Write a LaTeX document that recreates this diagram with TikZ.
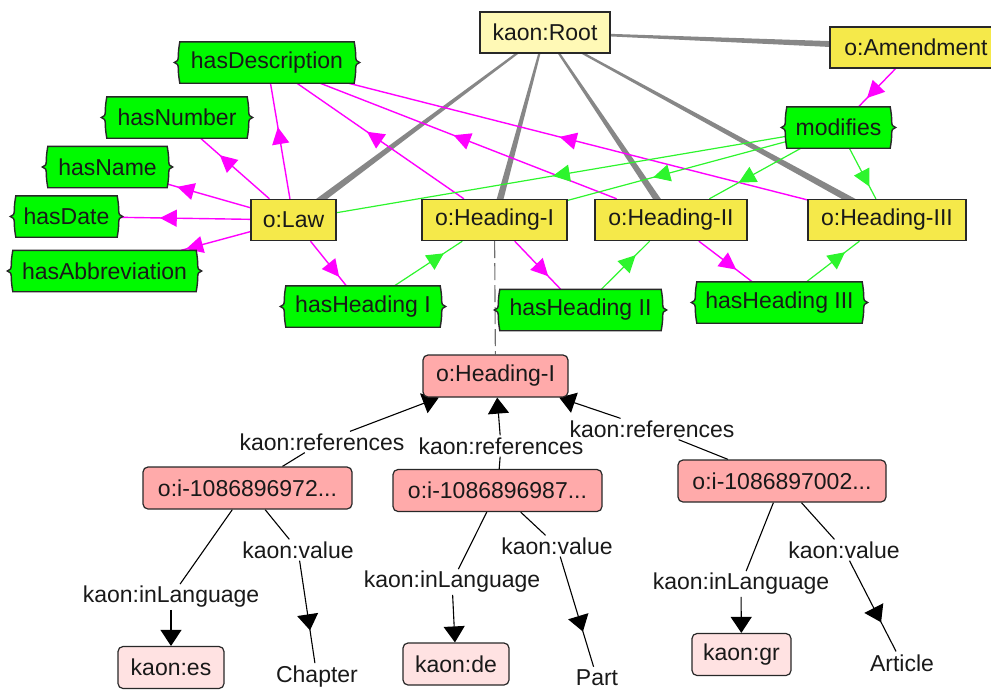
\documentclass[tikz,border=0pt]{standalone}
\usepackage{fontspec}
\setmainfont{Liberation Sans}
\usetikzlibrary{arrows.meta,decorations.markings,calc}

\pgfdeclarelayer{background}
\pgfdeclarelayer{propshapes}
\pgfsetlayers{background,propshapes,main}

\definecolor{classyellow}{RGB}{245,233,74}
\definecolor{rootyellow}{RGB}{255,249,182}
\definecolor{propgreen}{RGB}{0,250,0}
\definecolor{instpink}{RGB}{255,170,170}
\definecolor{langpink}{RGB}{255,226,226}
\definecolor{domainmag}{RGB}{255,0,255}
\definecolor{rangegreen}{RGB}{45,245,45}
\definecolor{edgegray}{RGB}{135,135,135}
\definecolor{viewgray}{RGB}{110,110,110}
\definecolor{outline}{RGB}{40,40,40}
\definecolor{labeltext}{RGB}{25,25,25}

\tikzset{
  txt/.style={font=\fontsize{23}{27}\selectfont, text=labeltext},
  cls/.style={txt, rectangle, draw=outline, line width=1.4pt, fill=classyellow,
    minimum height=41pt, inner sep=0pt},
  rootcls/.style={cls, fill=rootyellow},
  prop/.style={txt, rectangle, minimum height=41pt, inner sep=0pt},
  inst/.style={txt, rectangle, rounded corners=5pt, draw=outline, line width=1.2pt,
    fill=instpink, minimum height=42pt, inner sep=0pt},
  lang/.style={inst, fill=langpink},
  lbl/.style={txt, inner sep=2pt},
  literal/.style={txt, inner sep=3pt},
  domainedge/.style={draw=domainmag, line width=1.4pt},
  rangeedge/.style={draw=rangegreen, line width=1.2pt},
  rel/.style={draw=black, line width=1.1pt},
  reltip/.style={-{Triangle[length=16pt,width=21pt]}},
  tipat/.style={postaction=decorate, decoration={markings,
    mark=at position #1 with {\arrow{Triangle[length=17pt,width=17pt]}}}},
  btipat/.style={postaction=decorate, decoration={markings,
    mark=at position #1 with {\arrow{Triangle[length=16pt,width=21pt]}}}},
}

% tapered subclass edge: thin at the parent, wide at the child
\newcommand{\isaedge}[2]{%
  \fill[edgegray] ($(#1)!0.8pt!90:(#2)$) -- ($(#2)!3.6pt!-90:(#1)$)
    -- ($(#2)!3.6pt!90:(#1)$) -- ($(#1)!0.8pt!-90:(#2)$) -- cycle;}

% property box: rectangle whose short sides are curly braces
\newcommand{\propshape}[1]{%
  \filldraw[fill=propgreen, draw=outline, line width=1.4pt]
    (#1.north west)
      .. controls +(-1,6) and +(0,-5) .. ($(#1.west)+(-1.5,-6)$)
      .. controls +(0,4) and +(3,-1) .. ($(#1.west)+(-5.5,0)$)
      .. controls +(3,1) and +(0,-4) .. ($(#1.west)+(-1.5,6)$)
      .. controls +(0,5) and +(-1,-6) .. (#1.south west)
    -- (#1.south east)
      .. controls +(1,-6) and +(0,5) .. ($(#1.east)+(1.5,6)$)
      .. controls +(0,-4) and +(-3,1) .. ($(#1.east)+(5.5,0)$)
      .. controls +(-3,-1) and +(0,4) .. ($(#1.east)+(1.5,-6)$)
      .. controls +(0,-5) and +(1,6) .. (#1.north east)
    -- cycle;}

\begin{document}
\begin{tikzpicture}[x=1pt,y=-1pt]
\useasboundingbox (0,0) rectangle (991,689);
\clip (0,0) rectangle (991,689);

% ---------- ontology level ----------
\node[rootcls, minimum width=130pt] (root) at (545,32.5) {kaon:Root};
\node[cls, minimum width=172pt] (amend) at (916,47.5) {o:Amendment};

\node[prop, minimum width=174pt] (hasdesc) at (267,62.5) {hasDescription};
\node[prop, minimum width=140pt] (hasnum) at (177,117.5) {hasNumber};
\node[prop, minimum width=119pt] (hasname) at (107.5,167) {hasName};
\node[prop, minimum width=101pt] (hasdate) at (66.5,216.5) {hasDate};
\node[prop, minimum width=183pt] (hasabbr) at (104.5,271) {hasAbbreviation};
\node[prop, minimum width=103pt] (modifies) at (838.5,127.5) {modifies};

\node[cls, minimum width=85pt] (law) at (293.5,220) {o:Law};
\node[cls, minimum width=145pt] (headI) at (494.5,220) {o:Heading-I};
\node[cls, minimum width=152pt] (headII) at (671,220) {o:Heading-II};
\node[cls, minimum width=158pt] (headIII) at (887,220) {o:Heading-III};

\node[prop, minimum width=154pt] (hhI) at (363,306.5) {hasHeading I};
\node[prop, minimum width=161pt] (hhII) at (580.5,310) {hasHeading II};
\node[prop, minimum width=165pt] (hhIII) at (779.5,302.5) {hasHeading III};

% ---------- instance level ----------
\node[inst, minimum width=145pt] (ph) at (495.5,376) {o:Heading-I};
\node[inst, minimum width=209pt] (i1) at (247.5,488) {o:i-1086896972...};
\node[inst, minimum width=209pt] (i2) at (497.5,490.5) {o:i-1086896987...};
\node[inst, minimum width=208pt] (i3) at (782,481) {o:i-1086897002...};
\node[lang, minimum width=106pt] (es) at (171,667.5) {kaon:es};
\node[lang, minimum width=106pt] (de) at (456,664) {kaon:de};
\node[lang, minimum width=99pt] (gr) at (741.5,654.5) {kaon:gr};

\node[literal] (chapter) at (317,677) {Chapter};
\node[literal] (part) at (597,678) {Part};
\node[literal] (article) at (902,663) {Article};

\node[lbl] (ref1) at (322,442) {kaon:references};
\node[lbl] (ref2) at (501,446) {kaon:references};
\node[lbl] (ref3) at (652,429) {kaon:references};
\node[lbl] (val1) at (298,550) {kaon:value};
\node[lbl] (lang1) at (171,597) {kaon:inLanguage};
\node[lbl] (val2) at (557,546) {kaon:value};
\node[lbl] (lang2) at (452,582) {kaon:inLanguage};
\node[lbl] (val3) at (844,550) {kaon:value};
\node[lbl] (lang3) at (741,584) {kaon:inLanguage};

\begin{pgfonlayer}{propshapes}
  \propshape{hasdesc}
  \propshape{hasnum}
  \propshape{hasname}
  \propshape{hasdate}
  \propshape{hasabbr}
  \propshape{modifies}
  \propshape{hhI}
  \propshape{hhII}
  \propshape{hhIII}
\end{pgfonlayer}

\begin{pgfonlayer}{background}
  % subclass links from the root
  \isaedge{root}{law}
  \isaedge{root}{headI}
  \isaedge{root}{headII}
  \isaedge{root}{headIII}
  \isaedge{root}{amend}

  % property domains
  \draw[domainedge, tipat=0.62] (law) -- (hasdesc);
  \draw[domainedge, tipat=0.72] (law) -- (hasnum);
  \draw[domainedge, tipat=0.88] (law) -- (hasname);
  \draw[domainedge, tipat=0.68] (law) -- (hasdate);
  \draw[domainedge, tipat=0.93] (law) -- (hasabbr);
  \draw[domainedge, tipat=0.58] (headI) -- (hasdesc);
  \draw[domainedge, tipat=0.55] (headII) -- (hasdesc);
  \draw[domainedge, tipat=0.54] (headIII) -- (hasdesc);
  \draw[domainedge, tipat=0.80] (law) -- (hhI);
  \draw[domainedge, tipat=0.73] (headI) -- (hhII);
  \draw[domainedge, tipat=0.70] (headII) -- (hhIII);
  \draw[domainedge, tipat=0.77] (amend) -- (modifies);

  % property ranges
  \draw[rangeedge, tipat=0.73] (hhI) -- (headI);
  \draw[rangeedge, tipat=0.71] (hhII) -- (headII);
  \draw[rangeedge, tipat=0.73] (hhIII) -- (headIII);
  \draw[rangeedge, tipat=0.52] (modifies) -- (law);
  \draw[rangeedge, tipat=0.61] (modifies) -- (headI);
  \draw[rangeedge, tipat=0.68] (modifies) -- (headII);
  \draw[rangeedge, tipat=0.76] (modifies) -- (headIII);

  % concept to its instance view
  \draw[viewgray, line width=1.1pt, dash pattern=on 17pt off 5pt] (headI) -- (ph);

  % instance relations
  \draw[rel] (i1) -- (ref1);
  \draw[rel, reltip] (ref1) -- (ph);
  \draw[rel] (i2) -- (ref2);
  \draw[rel, reltip] (ref2) -- (ph);
  \draw[rel] (i3) -- (ref3);
  \draw[rel, reltip] (ref3) -- (ph);

  \draw[rel] (i1) -- (lang1);
  \draw[rel, reltip] (lang1) -- (es);
  \draw[rel] (i1) -- (val1);
  \draw[rel, btipat=0.68] (val1) -- (chapter);

  \draw[rel] (i2) -- (lang2);
  \draw[rel, reltip] (lang2) -- (de);
  \draw[rel] (i2) -- (val2);
  \draw[rel, btipat=0.68] (val2) -- (part);

  \draw[rel] (i3) -- (lang3);
  \draw[rel, reltip] (lang3) -- (gr);
  \draw[rel] (i3) -- (val3);
  \draw[rel, btipat=0.68] (val3) -- (article);
\end{pgfonlayer}
\end{tikzpicture}
\end{document}
